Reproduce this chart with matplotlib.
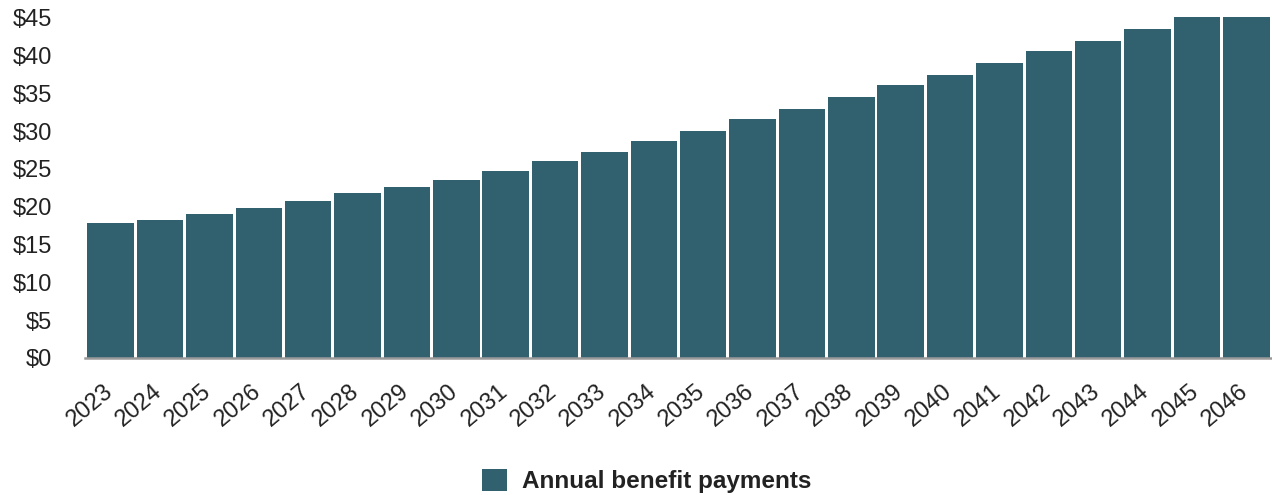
import matplotlib.pyplot as plt
from matplotlib.patches import Patch
from matplotlib.transforms import ScaledTranslation

# Data (billions of dollars)
years = [str(y) for y in range(2023, 2047)]
payments = [17.8, 18.3, 19.1, 19.9, 20.7, 21.8, 22.6, 23.6, 24.7, 26.0, 27.3, 28.7,
            30.0, 31.6, 32.9, 34.5, 36.1, 37.4, 39.0, 40.6, 41.9, 43.5, 45.1, 45.1]
y_ticks = [0, 5, 10, 15, 20, 25, 30, 35, 40, 45]
y_labels = ['$' + str(v) for v in y_ticks]
series_name = 'Annual benefit payments'

bar_color = '#31606f'
text_color = '#222222'

plt.rcParams['font.family'] = ['Liberation Sans', 'DejaVu Sans']

fig = plt.figure(figsize=(12.72, 4.95), dpi=100)
ax = fig.add_axes([85 / 1272, 1 - 358 / 495, 1 - 85 / 1272, 358 / 495])

x = range(len(years))
ax.bar(x, payments, width=0.94, color=bar_color, edgecolor='none')

ax.set_xlim(-0.52, len(years) - 0.48)
ax.set_ylim(0, 47.35)

ax.set_yticks(y_ticks)
ax.set_yticklabels(y_labels, fontsize=17, color=text_color)
ax.set_xticks(list(x))
ax.set_xticklabels(years, fontsize=17, color=text_color, rotation=40,
                   ha='right', va='top', rotation_mode='anchor')
ax.tick_params(axis='y', length=0, pad=24)
ax.tick_params(axis='x', length=0, pad=16)

# nudge the rotated year labels so their ends sit under the bar centres
shift = ScaledTranslation(-8 / 100, 0, fig.dpi_scale_trans)
for lbl in ax.get_xticklabels():
    lbl.set_transform(lbl.get_transform() + shift)

for side in ['top', 'right', 'left']:
    ax.spines[side].set_visible(False)
ax.spines['bottom'].set_color('#9a9a9a')
ax.spines['bottom'].set_linewidth(1.8)

handle = Patch(facecolor=bar_color, edgecolor='none')
fig.legend([handle], [series_name], loc='center',
           bbox_to_anchor=(647 / 1272, 1 - 481 / 495), frameon=False,
           prop={'size': 17.5, 'weight': 'bold'}, labelcolor=text_color,
           handlelength=1.0, handleheight=1.0, handletextpad=0.65)

plt.savefig('out.png', dpi=100)
